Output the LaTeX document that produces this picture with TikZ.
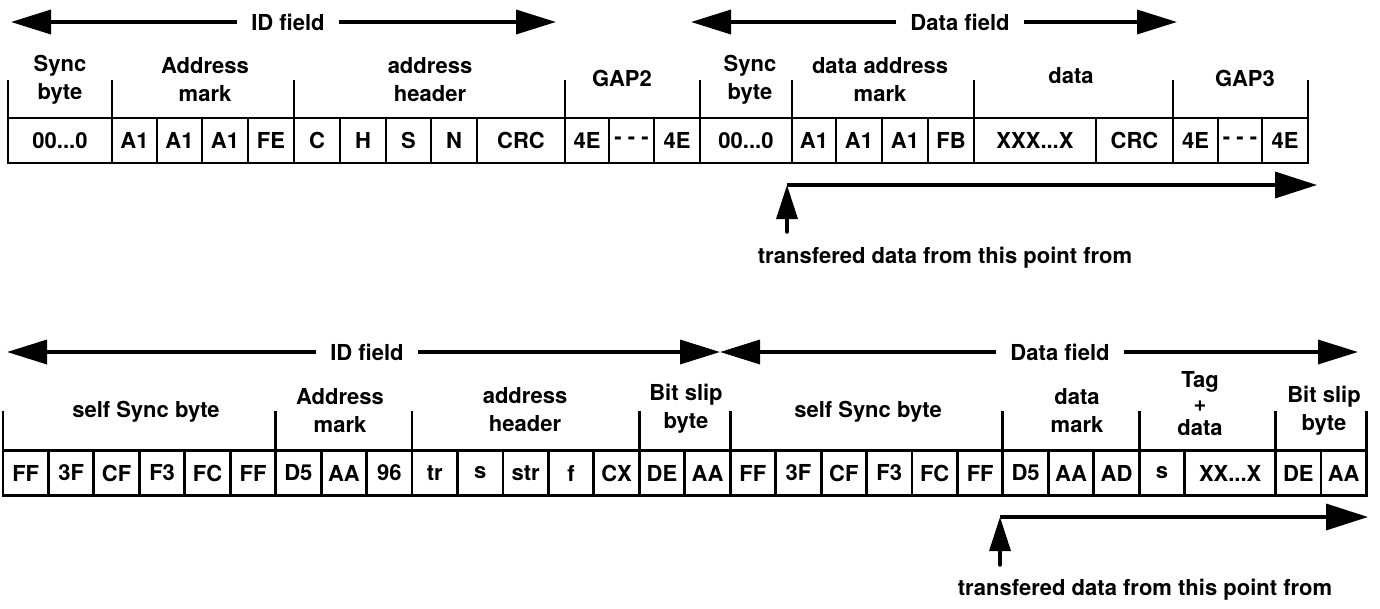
\documentclass[tikz,border=0pt]{standalone}
\usepackage{fontspec}
\setmainfont{TeX Gyre Heros}
\usepackage{tikz}
\usetikzlibrary{arrows.meta}
\tikzset{
	cellstyle/.style={rectangle,draw=black,line width=2.8pt,outer sep=0pt,inner sep=0pt,minimum width=45.45pt,minimum height=45pt},
	headstyle/.style={align=center,inner sep=0pt},
	fieldstyle/.style={inner xsep=14pt,inner ysep=0pt},
	tickstyle/.style={line width=2.8pt},
	fieldarrow/.style={line width=3.5pt,-{Triangle[length=40pt,width=24pt]}},
	sendarrow/.style={line width=3.5pt,-{Triangle[length=42pt,width=26pt]}},
	uparrow/.style={line width=3.5pt,line cap=round,-{Triangle[length=34pt,width=21pt]}}
}

\begin{document}
\begin{tikzpicture}[x=1pt,y=-1pt,font=\fontsize{22}{28}\selectfont\bfseries]
	\useasboundingbox (0,0) rectangle (1380,608);
	% first format
	\node[fieldstyle] (idf1) at (288,22) {ID field};
	\node[fieldstyle] (dtf1) at (960,22) {Data field};
	\coordinate (idL1) at (11,22);
	\coordinate (idR1) at (556,22);
	\coordinate (dtL1) at (691,22);
	\coordinate (dtR1) at (1177,22);
	\node[headstyle] (h1) at (60,80) {Sync\\byte};
	\node[headstyle] (h2) at (205,80) {Address\\mark};
	\node[headstyle] (h3) at (430,80) {address\\header};
	\node[headstyle] (h4) at (622,78) {GAP2};
	\node[headstyle] (h5) at (750,80) {Sync\\byte};
	\node[headstyle] (h6) at (880,80) {data address\\mark};
	\node[headstyle] (h7) at (1071,76) {data};
	\node[headstyle] (h8) at (1245,78) {GAP3};
	\node[cellstyle,minimum width=104] (a1) at (60,140.5) {00...0};
	\node[cellstyle,minimum width=45] (a2) at (134.5,140.5) {A1};
	\node[cellstyle,minimum width=45] (a3) at (179.5,140.5) {A1};
	\node[cellstyle,minimum width=46] (a4) at (225,140.5) {A1};
	\node[cellstyle,minimum width=46] (a5) at (271,140.5) {FE};
	\node[cellstyle,minimum width=46] (a6) at (317,140.5) {C};
	\node[cellstyle,minimum width=46] (a7) at (363,140.5) {H};
	\node[cellstyle,minimum width=45] (a8) at (408.5,140.5) {S};
	\node[cellstyle,minimum width=46] (a9) at (454,140.5) {N};
	\node[cellstyle,minimum width=88] (a10) at (521,140.5) {CRC};
	\node[cellstyle,minimum width=44] (a11) at (587,140.5) {4E};
	\node[cellstyle,minimum width=45] (a12) at (631.5,140.5) {- - -};
	\node[cellstyle,minimum width=46] (a13) at (677,140.5) {4E};
	\node[cellstyle,minimum width=92] (a14) at (746,140.5) {00...0};
	\node[cellstyle,minimum width=44] (a15) at (814,140.5) {A1};
	\node[cellstyle,minimum width=46] (a16) at (859,140.5) {A1};
	\node[cellstyle,minimum width=46] (a17) at (905,140.5) {A1};
	\node[cellstyle,minimum width=46] (a18) at (951,140.5) {FB};
	\node[cellstyle,minimum width=122] (a19) at (1035,140.5) {XXX...X};
	\node[cellstyle,minimum width=77] (a20) at (1134.5,140.5) {CRC};
	\node[cellstyle,minimum width=45] (a21) at (1195.5,140.5) {4E};
	\node[cellstyle,minimum width=44] (a22) at (1240,140.5) {- - -};
	\node[cellstyle,minimum width=46] (a23) at (1285,140.5) {4E};
	\draw[fieldarrow] (idf1) -- (idL1);
	\draw[fieldarrow] (idf1) -- (idR1);
	\draw[fieldarrow] (dtf1) -- (dtL1);
	\draw[fieldarrow] (dtf1) -- (dtR1);
	\draw[tickstyle] (a1.north west) -- ++(0,-38);
	\draw[tickstyle] (a2.north west) -- ++(0,-38);
	\draw[tickstyle] (a6.north west) -- ++(0,-38);
	\draw[tickstyle] (a11.north west) -- ++(0,-38);
	\draw[tickstyle] (a14.north west) -- ++(0,-38);
	\draw[tickstyle] (a15.north west) -- ++(0,-38);
	\draw[tickstyle] (a19.north west) -- ++(0,-38);
	\draw[tickstyle] (a21.north west) -- ++(0,-38);
	\draw[tickstyle] (a23.north east) -- ++(0,-38);
	\node (note1) at (945,258) {transfered data from this point from};
	\coordinate (up1) at (787,232);
	\coordinate (bend1) at (787,185);
	\coordinate (end1) at (1317,185);
	\draw[uparrow] (up1) -- (bend1);
	\draw[sendarrow] (bend1) -- (end1);
	% second format
	\node[fieldstyle] (idf2) at (367,352) {ID field};
	\node[fieldstyle] (dtf2) at (1060,352) {Data field};
	\coordinate (idL2) at (7,352);
	\coordinate (idR2) at (720,352);
	\coordinate (dtL2) at (720,352);
	\coordinate (dtR2) at (1358,352);
	\node[headstyle] (g1) at (146,412) {self Sync byte};
	\node[headstyle] (g2) at (340,411) {Address\\mark};
	\node[headstyle] (g3) at (525,410) {address\\header};
	\node[headstyle] (g4) at (686,409) {Bit slip\\byte};
	\node[headstyle] (g5) at (868,412) {self Sync byte};
	\node[headstyle] (g6) at (1077,411) {data\\mark};
	\node[headstyle] (g7) at (1200,404) {Tag\\[-4pt]+\\[-4pt]data};
	\node[headstyle] (g8) at (1324,411) {Bit slip\\byte};
	\node[cellstyle] (b1) at (25.7,473) {FF};
	\node[cellstyle] (b2) at (71.2,473) {3F};
	\node[cellstyle] (b3) at (116.6,473) {CF};
	\node[cellstyle] (b4) at (162.1,473) {F3};
	\node[cellstyle] (b5) at (207.5,473) {FC};
	\node[cellstyle] (b6) at (253,473) {FF};
	\node[cellstyle] (b7) at (298.4,473) {D5};
	\node[cellstyle] (b8) at (343.9,473) {AA};
	\node[cellstyle] (b9) at (389.3,473) {96};
	\node[cellstyle] (b10) at (434.8,473) {tr};
	\node[cellstyle] (b11) at (480.2,473) {s};
	\node[cellstyle] (b12) at (525.7,473) {str};
	\node[cellstyle] (b13) at (571.1,473) {f};
	\node[cellstyle] (b14) at (616.6,473) {CX};
	\node[cellstyle] (b15) at (662,473) {DE};
	\node[cellstyle] (b16) at (707.5,473) {AA};
	\node[cellstyle] (b17) at (752.9,473) {FF};
	\node[cellstyle] (b18) at (798.4,473) {3F};
	\node[cellstyle] (b19) at (843.8,473) {CF};
	\node[cellstyle] (b20) at (889.3,473) {F3};
	\node[cellstyle] (b21) at (934.7,473) {FC};
	\node[cellstyle] (b22) at (980.2,473) {FF};
	\node[cellstyle] (b23) at (1025.6,473) {D5};
	\node[cellstyle] (b24) at (1071.1,473) {AA};
	\node[cellstyle] (b25) at (1116.5,473) {AD};
	\node[cellstyle] (b26) at (1162,473) {s};
	\node[cellstyle,minimum width=90.9] (b27) at (1230.2,473) {XX...X};
	\node[cellstyle] (b28) at (1298.3,473) {DE};
	\node[cellstyle] (b29) at (1343.7,473) {AA};
	\draw[fieldarrow] (idf2) -- (idL2);
	\draw[fieldarrow] (idf2) -- (idR2);
	\draw[fieldarrow] (dtf2) -- (dtL2);
	\draw[fieldarrow] (dtf2) -- (dtR2);
	\draw[tickstyle] (b1.north west) -- ++(0,-40);
	\draw[tickstyle] (b7.north west) -- ++(0,-40);
	\draw[tickstyle] (b10.north west) -- ++(0,-40);
	\draw[tickstyle] (b15.north west) -- ++(0,-40);
	\draw[tickstyle] (b17.north west) -- ++(0,-40);
	\draw[tickstyle] (b23.north west) -- ++(0,-40);
	\draw[tickstyle] (b26.north west) -- ++(0,-40);
	\draw[tickstyle] (b28.north west) -- ++(0,-40);
	\draw[tickstyle] (b29.north east) -- ++(0,-40);
	\node (note2) at (1145,590) {transfered data from this point from};
	\coordinate (up2) at (1000,565);
	\coordinate (bend2) at (1000,517);
	\coordinate (end2) at (1368,517);
	\draw[uparrow] (up2) -- (bend2);
	\draw[sendarrow] (bend2) -- (end2);
\end{tikzpicture}
\end{document}
